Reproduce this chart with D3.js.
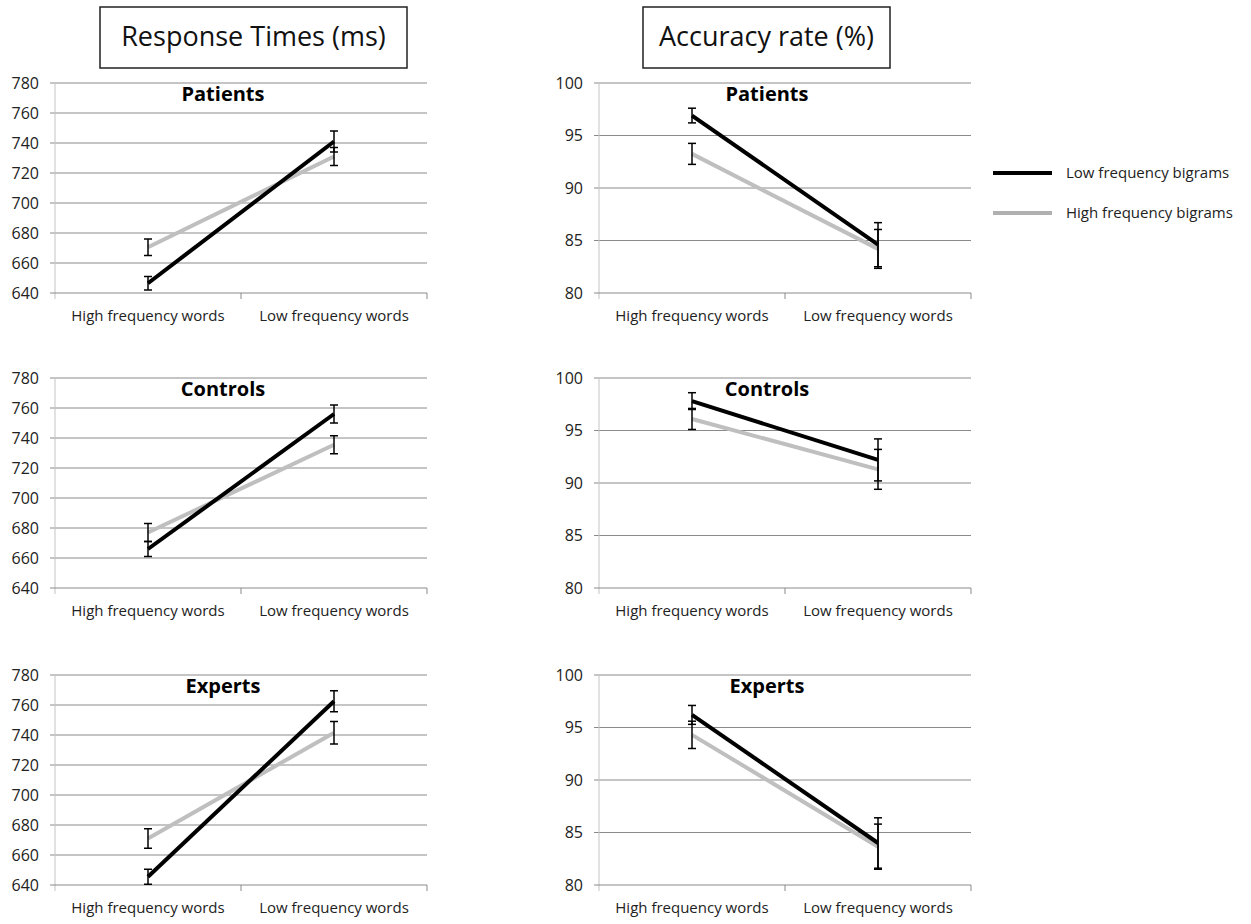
<!DOCTYPE html>
<html><head><meta charset="utf-8">
<script src="https://cdn.jsdelivr.net/npm/d3@7"></script>
<style>
body{margin:0;background:#fff;}
text{font-family:"Open Sans",Lato,sans-serif;}
</style></head>
<body><svg id="c" width="1251" height="924"></svg>
<script>
// ---- data ----
const categories = ["High frequency words", "Low frequency words"];
const groups = ["Patients", "Controls", "Experts"];
const seriesNames = ["Low frequency bigrams", "High frequency bigrams"];
const panelTitles = ["Response Times (ms)", "Accuracy rate (%)"];

const rtTicks = [640, 660, 680, 700, 720, 740, 760, 780];
const accTicks = [80, 85, 90, 95, 100];

// response times, per group: [High freq words, Low freq words]
const rtLowBigrams = [[646.5, 741], [666, 756], [645.5, 762.5]];
const rtLowBigramsErr = [[4.5, 7], [5, 6], [5, 7]];
const rtHighBigrams = [[670.5, 731], [677, 735.5], [671, 741.5]];
const rtHighBigramsErr = [[5.5, 6], [6, 6], [6.5, 7.5]];

// accuracy rate, per group
const accLowBigrams = [[96.9, 84.6], [97.8, 92.2], [96.2, 84.0]];
const accLowBigramsErr = [[0.7, 2.1], [0.8, 2.0], [0.9, 2.4]];
const accHighBigrams = [[93.25, 84.2], [96.1, 91.3], [94.3, 83.65]];
const accHighBigramsErr = [[1.0, 1.85], [1.0, 1.9], [1.3, 2.15]];

// ---- layout ----
const svg = d3.select("#c");
const colors = ["#000000", "#bfbfbf"];
const rowTops = [83, 378, 675];
const plotH = 210;
const colLeft = [55, 599];
const plotW = 372;

function drawPanel(col, row) {
  const x0 = colLeft[col], y0 = rowTops[row];
  const isRT = col === 0;
  const ticks = isRT ? rtTicks : accTicks;
  const y = d3.scaleLinear().domain([ticks[0], ticks[ticks.length - 1]]).range([y0 + plotH, y0]);
  const x = d3.scaleBand().domain(categories).range([x0, x0 + plotW]).padding(0);
  const g = svg.append("g");

  g.selectAll("line.grid").data(ticks.slice(1)).join("line")
    .attr("x1", x0 - 5).attr("x2", x0 + plotW)
    .attr("y1", d => y(d)).attr("y2", d => y(d))
    .attr("stroke", "#8a8a8a").attr("stroke-width", 1);
  g.append("line").attr("x1", x0).attr("x2", x0).attr("y1", y0).attr("y2", y0 + plotH + 6)
    .attr("stroke", "#c4c4c4").attr("stroke-width", 1);
  g.append("line").attr("x1", x0 - 5).attr("x2", x0 + plotW)
    .attr("y1", y(ticks[0])).attr("y2", y(ticks[0]))
    .attr("stroke", "#8a8a8a").attr("stroke-width", 1);
  const bounds = [x0, x0 + x.bandwidth(), x0 + plotW];
  g.selectAll("line.xt").data(bounds.slice(1)).join("line")
    .attr("x1", d => d).attr("x2", d => d)
    .attr("y1", y0 + plotH).attr("y2", y0 + plotH + 6)
    .attr("stroke", "#8a8a8a").attr("stroke-width", 1);

  g.selectAll("text.yt").data(ticks).join("text")
    .attr("x", x0 - 16).attr("y", d => y(d)).attr("dy", "0.36em")
    .attr("text-anchor", "end").attr("font-size", 16).attr("fill", "#222")
    .text(d => d);
  g.selectAll("text.xl").data(categories).join("text")
    .attr("x", d => x(d) + x.bandwidth() / 2).attr("y", y0 + plotH + 28)
    .attr("text-anchor", "middle").attr("font-size", 15).attr("fill", "#222")
    .text(d => d);
  g.append("text").attr("x", x0 + plotW / 2 - 18).attr("y", y0 + 18)
    .attr("text-anchor", "middle").attr("font-size", 20).attr("font-weight", "bold")
    .attr("fill", "#000").text(groups[row]);

  const vals = isRT ? [rtLowBigrams[row], rtHighBigrams[row]] : [accLowBigrams[row], accHighBigrams[row]];
  const errs = isRT ? [rtLowBigramsErr[row], rtHighBigramsErr[row]] : [accLowBigramsErr[row], accHighBigramsErr[row]];
  const line = d3.line().x((d, i) => x(categories[i]) + x.bandwidth() / 2).y(d => y(d));

  [1, 0].forEach(s => {
    g.append("path").datum(vals[s]).attr("d", line)
      .attr("fill", "none").attr("stroke", colors[s]).attr("stroke-width", 4);
  });
  [1, 0].forEach(s => {
    vals[s].forEach((v, i) => {
      const cx = x(categories[i]) + x.bandwidth() / 2;
      const e = errs[s][i];
      const eg = g.append("g").attr("stroke", "#000").attr("stroke-width", 1.5);
      eg.append("line").attr("x1", cx).attr("x2", cx).attr("y1", y(v - e)).attr("y2", y(v + e));
      [v - e, v + e].forEach(t => eg.append("line").attr("x1", cx - 4).attr("x2", cx + 4)
        .attr("y1", y(t)).attr("y2", y(t)));
    });
  });
}

for (let c = 0; c < 2; c++) for (let r = 0; r < 3; r++) drawPanel(c, r);

const boxes = [[100, 7, 307, 61], [643, 7, 247, 61]];
panelTitles.forEach((t, i) => {
  const b = boxes[i];
  svg.append("rect").attr("x", b[0]).attr("y", b[1]).attr("width", b[2]).attr("height", b[3])
    .attr("fill", "#fff").attr("stroke", "#222").attr("stroke-width", 1.5);
  svg.append("text").attr("x", b[0] + b[2] / 2).attr("y", 46).attr("text-anchor", "middle")
    .attr("font-size", 27).attr("fill", "#111").text(t);
});

const leg = svg.append("g");
seriesNames.forEach((s, i) => {
  const ly = 173 + i * 40;
  leg.append("line").attr("x1", 993).attr("x2", 1052).attr("y1", ly).attr("y2", ly)
    .attr("stroke", i === 0 ? "#000" : "#b0b0b0").attr("stroke-width", 4);
  leg.append("text").attr("x", 1066).attr("y", ly).attr("dy", "0.36em")
    .attr("font-size", 15).attr("fill", "#222").text(s);
});
</script></body></html>
